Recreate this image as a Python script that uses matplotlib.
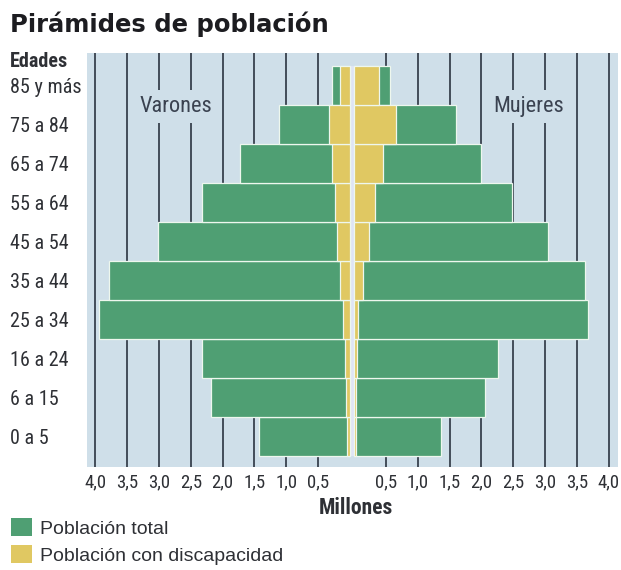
import matplotlib
matplotlib.use('Agg')
import matplotlib.pyplot as plt
from matplotlib import font_manager
from matplotlib.font_manager import FontProperties
from matplotlib.patches import Patch
from matplotlib.transforms import blended_transform_factory

# age groups, bottom to top
ages = ['0 a 5', '6 a 15', '16 a 24', '25 a 34', '35 a 44',
        '45 a 54', '55 a 64', '65 a 74', '75 a 84', '85 y más']

# millions of people
men_total = [1.43, 2.18, 2.33, 3.95, 3.78, 3.02, 2.33, 1.72, 1.12, 0.28]
men_disab = [0.05, 0.06, 0.07, 0.11, 0.16, 0.20, 0.24, 0.28, 0.33, 0.15]
women_total = [1.36, 2.05, 2.26, 3.68, 3.62, 3.05, 2.48, 1.99, 1.60, 0.57]
women_disab = [0.03, 0.03, 0.04, 0.06, 0.14, 0.24, 0.32, 0.45, 0.66, 0.39]

tick_values = [0.5, 1.0, 1.5, 2.0, 2.5, 3.0, 3.5, 4.0]
tick_labels = ['0,5', '1,0', '1,5', '2,0', '2,5', '3,0', '3,5', '4,0']

GREEN = '#4f9f73'
YELLOW = '#e0c862'
PANEL = '#cfdfe9'
GRID = '#2b3440'
TEXT = '#2e3035'


def find_font(keys, bold):
    # look for a condensed face on disk
    files = font_manager.findSystemFonts() + [f.fname for f in font_manager.fontManager.ttflist]
    for key in keys:
        for f in files:
            base = f.split('/')[-1]
            if key in base and (('Bold' in base) == bold) and 'Italic' not in base and 'Oblique' not in base:
                return f
    return None


keys = ['LiberationSansNarrow', 'RobotoCondensed', 'Roboto_Condensed', 'DejaVuSansCondensed',
        'NotoSans-Condensed', 'OpenSans_Condensed', 'OpenSansCondensed']
narrow_file = find_font(keys, False)
narrow_bold_file = find_font(keys, True)
scale = 1.0
if narrow_file is None:
    scale = 0.9


def nfont(size, bold=False):
    f = narrow_bold_file if bold else narrow_file
    if f is not None:
        return FontProperties(fname=f, size=size)
    return FontProperties(family=['Roboto', 'Liberation Sans', 'DejaVu Sans'],
                          weight='bold' if bold else 'normal', size=size * scale)


gap = 0.034  # half width of the centre strip (millions)

fig = plt.figure(figsize=(6.21, 5.70), dpi=100)
ax = fig.add_axes([0.1406, 0.1807, 0.8546, 0.7268])
ax.set_facecolor(PANEL)
for s in ax.spines.values():
    s.set_visible(False)

y = list(range(len(ages)))

# gridlines at every half million on both sides
for v in tick_values:
    ax.axvline(-gap - v, color=GRID, lw=1.2, zorder=1)
    ax.axvline(gap + v, color=GRID, lw=1.2, zorder=1)

ax.fill_betweenx([-0.5, len(ages) - 0.5], -gap, gap, color='#dfe4f5', zorder=1.5, lw=0)

edge = dict(edgecolor='#eef7ee', linewidth=0.9, height=1.0)
ax.barh(y, [-v for v in men_total], left=-gap, color=GREEN, zorder=2, **edge)
ax.barh(y, women_total, left=gap, color=GREEN, zorder=2, **edge)
ax.barh(y, [-v for v in men_disab], left=-gap, color=YELLOW, zorder=3, **edge)
ax.barh(y, women_disab, left=gap, color=YELLOW, zorder=3, **edge)

ax.set_xlim(-4.16, 4.18)
ax.set_ylim(-0.78, len(ages) - 0.5 + 0.34)

ticks = [-gap - v for v in tick_values] + [gap + v for v in tick_values]
ax.set_xticks(ticks)
ax.set_xticklabels(tick_labels + tick_labels, fontproperties=nfont(13.5), color=TEXT)
ax.tick_params(axis='x', length=0, pad=4.5)
ax.set_yticks([])

# side labels, boxed in panel colour so they cut the gridlines
box = dict(facecolor=PANEL, edgecolor='none', pad=4.5)
ax.text(-2.76, 8.456, 'Varones', ha='center', va='center', fontproperties=nfont(16),
        color='#3a4250', bbox=box, zorder=1.6)
ax.text(2.78, 8.456, 'Mujeres', ha='center', va='center', fontproperties=nfont(16),
        color='#3a4250', bbox=box, zorder=1.6)

# age labels on the left, outside the panel
trans = blended_transform_factory(fig.transFigure, ax.transData)
for yi, lab in zip(y, ages):
    ax.text(0.016, yi - 0.05, lab, transform=trans, ha='left', va='center',
            fontproperties=nfont(14.5), color=TEXT)
ax.text(0.016, len(ages) - 0.385, 'Edades', transform=trans, ha='left', va='center',
        fontproperties=nfont(14.5, bold=True), color=TEXT)

fig.text(0.016, 1 - 32.3 / 570, 'Pirámides de población', ha='left', va='baseline',
         fontsize=17.5, fontweight='bold', color='#1c1c20', family='DejaVu Sans')

fig.text(356 / 621, 1 - 508 / 570, 'Millones', ha='center', va='center',
         fontproperties=nfont(15.5, bold=True), color=TEXT)

handles = [Patch(facecolor=GREEN, edgecolor='none', label='Población total'),
           Patch(facecolor=YELLOW, edgecolor='none', label='Población con discapacidad')]
fig.legend(handles=handles, loc='upper left', bbox_to_anchor=(11 / 621, 1 - 518 / 570),
           frameon=False, prop={'family': ['Liberation Sans', 'DejaVu Sans'], 'size': 14},
           labelcolor=TEXT, handlelength=1.08, handleheight=1.03, handletextpad=0.42,
           labelspacing=0.4, borderpad=0, borderaxespad=0)

plt.savefig('out.png', dpi=100)
